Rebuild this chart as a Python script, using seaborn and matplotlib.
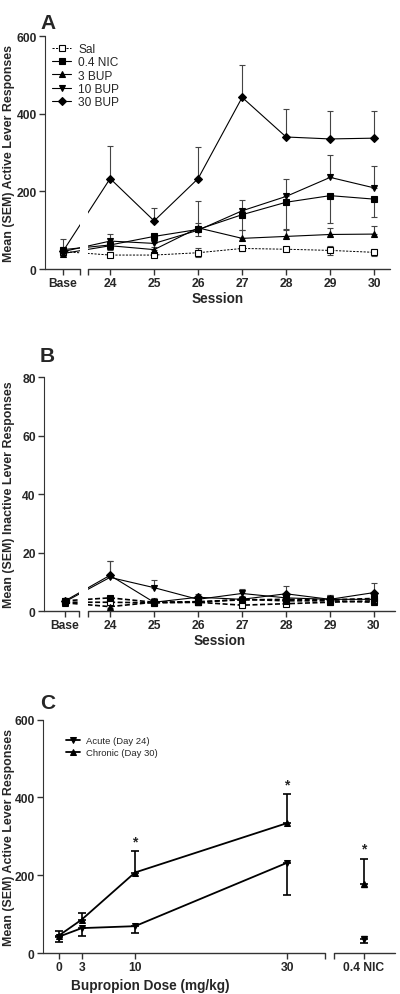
import matplotlib
matplotlib.use("Agg")
import matplotlib.pyplot as plt
import matplotlib.transforms as mtransforms
import seaborn as sns
import numpy as np

# ---- data ----
session_labels = ["Base", "24", "25", "26", "27", "28", "29", "30"]
session_num = [0, 24, 25, 26, 27, 28, 29, 30]  # 0 stands for Base

# panel A: active lever
act_sal = [45, 36, 36, 42, 53, 51, 48, 43]
act_sal_sem = [8, 6, 6, 12, 6, 5, 12, 9]
act_nic = [50, 62, 84, 102, 140, 172, 189, 180]
act_nic_sem = [10, 12, 10, 18, 40, 70, 71, 47]
act_bup3 = [40, 60, 50, 106, 79, 84, 89, 90]
act_bup3_sem = [8, 10, 8, 12, 22, 17, 17, 20]
act_bup10 = [45, 72, 66, 100, 150, 187, 236, 209]
act_bup10_sem = [12, 17, 15, 76, 28, 45, 58, 57]
act_bup30 = [46, 233, 124, 233, 442, 340, 335, 337]
act_bup30_sem = [31, 83, 32, 80, 84, 72, 72, 71]

# panel B: inactive lever
ina_sal = [3.0, 3.0, 2.8, 3.0, 2.0, 2.5, 3.0, 3.5]
ina_sal_sem = [1.0, 1.0, 1.2, 0.8, 0.8, 0.8, 1.0, 0.8]
ina_nic = [3.5, 4.5, 3.0, 3.2, 3.8, 4.0, 3.8, 4.3]
ina_nic_sem = [1.0, 0.8, 1.0, 0.8, 0.8, 0.8, 0.8, 0.8]
ina_bup3 = [2.8, 1.5, 3.0, 3.0, 4.0, 3.5, 3.5, 3.0]
ina_bup3_sem = [0.8, 0.5, 0.8, 0.8, 0.8, 0.8, 0.8, 0.8]
ina_bup10 = [3.2, 11.5, 8.0, 4.0, 6.0, 4.5, 4.0, 4.0]
ina_bup10_sem = [1.0, 5.5, 2.7, 1.0, 1.5, 1.0, 1.5, 1.0]
ina_bup30 = [3.5, 12.2, 3.0, 4.7, 4.0, 5.9, 4.0, 6.3]
ina_bup30_sem = [1.0, 5.0, 1.5, 1.0, 1.0, 2.8, 1.5, 3.2]

# panel C: dose response
doses = [0, 3, 10, 30]
acute = [42, 64, 69, 232]
acute_sem = [14, 19, 17, 84]
chronic = [45, 86, 207, 334]
chronic_sem = [12, 17, 55, 74]
acute_nic, acute_nic_sem = 36, 10
chronic_nic, chronic_nic_sem = 178, 64

# ---- style ----
sns.set_style("ticks")
plt.rcParams["font.family"] = ["Liberation Sans", "DejaVu Sans"]
plt.rcParams["font.weight"] = "bold"
plt.rcParams["axes.labelweight"] = "bold"

TICK_FS = 8.7
YLAB_FS = 8.9
XLAB_FS = 9.8

fig = plt.figure(figsize=(4, 9.95), dpi=100)


def base_pos(base_x):
    return [base_x] + session_num[1:]


def one_sided(sem, direction):
    sem = np.asarray(sem, dtype=float)
    z = np.zeros_like(sem)
    if direction == "up":
        return [z, sem]
    if direction == "down":
        return [sem, z]
    return [sem, sem]


def broken_xaxis(ax, x0, b0, b1, x1):
    ax.spines["bottom"].set_visible(False)
    ax.axvspan(b0, b1, color="white", zorder=4, lw=0)
    tr = mtransforms.blended_transform_factory(ax.transData, ax.transAxes)
    for a, b in [(x0, b0), (b1, x1)]:
        ax.plot([a, b], [0, 0], color="#333333", lw=1.0, transform=tr,
                clip_on=False, zorder=6)
    ax.set_xticks([b0, b1], minor=True)
    ax.tick_params(axis="x", which="minor", length=4, width=1.0, color="#333333")


def style_axes(ax, left_px, right_px):
    ax.spines["top"].set_visible(False)
    ax.spines["right"].set_visible(False)
    ax.spines["left"].set_color("#333333")
    ax.tick_params(axis="both", which="major", length=4, width=1.0,
                   color="#333333", labelsize=TICK_FS, pad=2)
    # y label centred at x ~ 15 px in the figure
    ax.yaxis.set_label_coords((15 - left_px) / (right_px - left_px), 0.5)


def session_panel(ax, series, base_x, xlim, brk, ylim, yticks, ylabel, left_px, right_px):
    xs = base_pos(base_x)
    for name, vals, sem, direction, marker, mfc, ls, lw in series:
        sns.lineplot(x=xs, y=vals, ax=ax, color="black", marker=marker,
                     markersize=4.8 if marker != "D" else 3.8,
                     markerfacecolor=mfc, markeredgecolor="black",
                     markeredgewidth=0.8, linestyle=ls, linewidth=lw,
                     label=name, sort=False, zorder=3)
        ax.errorbar(xs, vals, yerr=one_sided(sem, direction), fmt="none",
                    ecolor="#444444", elinewidth=0.8, capsize=2.2,
                    capthick=0.8, zorder=2)
    ax.set_xlim(*xlim)
    ax.set_ylim(*ylim)
    ax.set_yticks(yticks)
    ax.set_xticks(xs)
    ax.set_xticklabels(session_labels)
    broken_xaxis(ax, xlim[0], brk[0], brk[1], xlim[1])
    style_axes(ax, left_px, right_px)
    ax.set_xlabel("Session", fontsize=XLAB_FS, labelpad=1)
    ax.set_ylabel(ylabel, fontsize=YLAB_FS)


# ---- panel A ----
axA = fig.add_axes([0.1125, 0.7286, 0.8625, 0.2342])
seriesA = [
    ("Sal", act_sal, act_sal_sem, "both", "s", "white", (0, (2.2, 1.4)), 0.7),
    ("0.4 NIC", act_nic, act_nic_sem, "down", "s", "black", "-", 0.8),
    ("3 BUP", act_bup3, act_bup3_sem, "up", "^", "black", "-", 0.8),
    ("10 BUP", act_bup10, act_bup10_sem, "up", "v", "black", "-", 0.8),
    ("30 BUP", act_bup30, act_bup30_sem, "up", "D", "black", "-", 0.8),
]
session_panel(axA, seriesA, 22.93, (22.52, 30.36), (23.32, 23.5), (0, 600),
              [0, 200, 400, 600], "Mean (SEM) Active Lever Responses", 45, 390)
axA.legend(loc="upper left", bbox_to_anchor=(0.0, 1.0), frameon=False,
           handlelength=1.6, handletextpad=0.6,
           labelspacing=0.1, borderaxespad=0.2,
           prop={"weight": "normal", "size": 8.6})
fig.text(0.1, 0.976, "A", fontsize=15, fontweight="bold", ha="left", va="center")

# ---- panel B ----
axB = fig.add_axes([0.11, 0.3849, 0.8775, 0.2352])
seriesB = [
    ("Sal", ina_sal, ina_sal_sem, "both", "s", "white", (0, (3, 1.5)), 1.2),
    ("0.4 NIC", ina_nic, ina_nic_sem, "both", "s", "black", (0, (3, 1.5)), 1.2),
    ("3 BUP", ina_bup3, ina_bup3_sem, "both", "^", "black", (0, (3, 1.5)), 1.2),
    ("10 BUP", ina_bup10, ina_bup10_sem, "up", "v", "black", "-", 0.8),
    ("30 BUP", ina_bup30, ina_bup30_sem, "up", "D", "black", "-", 0.8),
]
session_panel(axB, seriesB, 22.98, (22.5, 30.48), (23.3, 23.5), (0, 80),
              [0, 20, 40, 60, 80], "Mean (SEM) Inactive Lever Responses", 44, 395)
axB.get_legend().remove()
fig.text(0.1, 0.642, "B", fontsize=15, fontweight="bold", ha="left", va="center")

# ---- panel C ----
axC = fig.add_axes([0.1075, 0.0412, 0.88, 0.2345])
nic_x = 40.1
sns.lineplot(x=doses, y=acute, ax=axC, color="black", marker="v",
             markersize=5, markeredgecolor="black", linewidth=1.3,
             label="Acute (Day 24)", zorder=3)
sns.lineplot(x=doses, y=chronic, ax=axC, color="black", marker="^",
             markersize=5, markeredgecolor="black", linewidth=1.3,
             label="Chronic (Day 30)", zorder=3)
axC.errorbar(doses + [nic_x], acute + [acute_nic],
             yerr=one_sided(acute_sem + [acute_nic_sem], "down"), fmt="none",
             ecolor="black", elinewidth=1.2, capsize=3, capthick=1.2, zorder=2)
axC.errorbar(doses + [nic_x], chronic + [chronic_nic],
             yerr=one_sided(chronic_sem + [chronic_nic_sem], "up"), fmt="none",
             ecolor="black", elinewidth=1.2, capsize=3, capthick=1.2, zorder=2)
axC.plot([nic_x], [acute_nic], marker="v", color="black", markersize=5, zorder=3)
axC.plot([nic_x], [chronic_nic], marker="^", color="black", markersize=5, zorder=3)
for x, top in [(10, chronic[2] + chronic_sem[2]), (30, chronic[3] + chronic_sem[3]),
               (nic_x, chronic_nic + chronic_nic_sem)]:
    axC.text(x, top + 8, "*", ha="center", va="bottom", fontsize=10,
             fontweight="bold")
axC.set_xlim(-2.1, 44.2)
axC.set_ylim(0, 600)
axC.set_yticks([0, 200, 400, 600])
axC.set_xticks(doses + [nic_x])
axC.set_xticklabels(["0", "3", "10", "30", "0.4 NIC"])
broken_xaxis(axC, -2.1, 35.0, 36.2, 44.2)
style_axes(axC, 43, 395)
axC.set_xlabel("Bupropion Dose (mg/kg)", fontsize=XLAB_FS)
axC.xaxis.set_label_coords(0.304, -0.105)
axC.set_ylabel("Mean (SEM) Active Lever Responses", fontsize=YLAB_FS)
axC.legend(loc="upper left", bbox_to_anchor=(0.04, 0.965), frameon=False,
           handlelength=1.5, handletextpad=0.7, labelspacing=0.3,
           prop={"weight": "normal", "size": 6.8})
fig.text(0.1, 0.293, "C", fontsize=15, fontweight="bold", ha="left", va="center")

fig.savefig("out.png", dpi=100)
